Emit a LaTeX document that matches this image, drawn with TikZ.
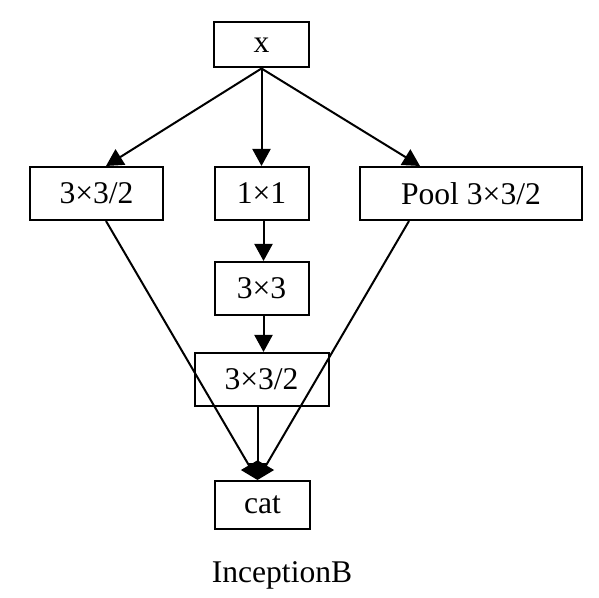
\documentclass[tikz,border=0pt]{standalone}
\usepackage{fontspec}
\setmainfont{Liberation Serif}
\usetikzlibrary{arrows.meta}

\begin{document}
\begin{tikzpicture}[x=0.5pt,y=-0.5pt,
  blk/.style={draw,line width=1pt,inner sep=0pt,minimum height=26.5pt,font=\fontsize{15.8}{19}\selectfont},
  post/.style={line width=1pt,-{Triangle[length=8.5pt,width=9pt]}}]
%
\useasboundingbox (0,0) rectangle (599,598);
%
\node[blk,minimum width=47.5pt,minimum height=22.5pt] (x) at (261.5,45) {x};
\node[blk,minimum width=66.5pt] (red) at (96.5,193.5) {3×3/2};
\node[blk,minimum width=47pt] (one) at (261.5,193.5) {1×1};
\node[blk,minimum width=111pt] (pool) at (471,193.5) {Pool 3×3/2};
\node[blk,minimum width=47pt] (three) at (261.5,288.5) {3×3};
\node[blk,minimum width=67pt] (low) at (261.5,379.5) {3×3/2};
\node[blk,minimum width=47.5pt,minimum height=24pt] (cat) at (262.5,505) {cat};
\node[font=\fontsize{15.8}{19}\selectfont] (name) at (282,575) {InceptionB};
%
\coordinate (in) at ([xshift=-2.5pt]cat.north);
%
\draw[post] (x.south) -- ([xshift=4.75pt]red.north);
\draw[post] (x.south) -- (one.north);
\draw[post] (x.south) -- ([xshift=-25.5pt]pool.north);
\draw[post] ([xshift=1pt]one.south) -- ([xshift=1pt]three.north);
\draw[post] ([xshift=1pt]three.south) -- ([xshift=1pt]low.north);
\draw[post] ([xshift=4.75pt]red.south) -- (in);
\draw[post] ([xshift=-31pt]pool.south) -- (in);
\draw[post] (low.south -| in) -- (in);
%
\end{tikzpicture}
\end{document}
